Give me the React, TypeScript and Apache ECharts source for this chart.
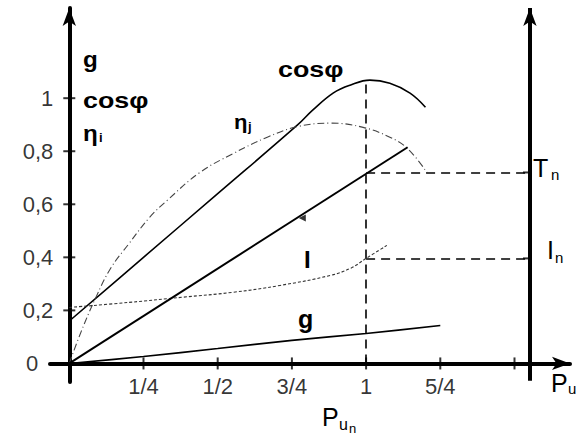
import React, { useEffect, useRef } from 'react';
import * as echarts from 'echarts';

// ---- data (P/Pn on x, per-unit on y) ----
const cosPhiX = [0, 0.25, 0.5, 0.77, 0.82, 0.89, 0.946, 1.013, 1.08, 1.148, 1.2];
const cosPhiY = [0.16, 0.4, 0.64, 0.9, 0.955, 1.02, 1.049, 1.068, 1.056, 1.019, 0.966];

const etaX = [0, 0.04, 0.09, 0.14, 0.2, 0.27, 0.33, 0.44, 0.55, 0.667, 0.77, 0.88, 0.99, 1.08, 1.14, 1.205];
const etaY = [0, 0.12, 0.25, 0.36, 0.45, 0.55, 0.615, 0.72, 0.79, 0.853, 0.893, 0.906, 0.89, 0.853, 0.81, 0.72];

const currentX = [0, 0.2, 0.385, 0.55, 0.71, 0.88, 0.95, 1.0, 1.07];
const currentY = [0.211, 0.23, 0.25, 0.268, 0.294, 0.332, 0.36, 0.396, 0.445];

const torqueX = [0, 1.14];
const torqueY = [0, 0.815];

const slipX = [0, 0.25, 0.5, 0.75, 1, 1.25];
const slipY = [0, 0.026, 0.056, 0.087, 0.113, 0.143];

const ratedP = 1;
const ratedTorque = 0.72;
const ratedCurrent = 0.396;
const cosPhiPeak = 1.066;
const rightAxisX = 1.552;
const torqueArrowMark = [0.785, 0.548];

const xTickValues = [0.25, 0.5, 0.75, 1, 1.25, 1.5];
const xLabelValues = [0.25, 0.5, 0.75, 1, 1.25];
const xLabelTexts = ['1/4', '1/2', '3/4', '1', '5/4'];
const yTickValues = [0.2, 0.4, 0.6, 0.8, 1];
const yLabelValues = [0.2, 0.4, 0.6, 0.8, 1];
const yLabelTexts = ['0,2', '0,4', '0,6', '0,8', '1'];
const originLabel = '0';

const zip = (xs: number[], ys: number[]) => xs.map((x, i) => [x, ys[i]]);
const pick = (vals: number[], texts: string[], v: number) => {
  const i = vals.findIndex((a) => Math.abs(a - v) < 1e-6);
  return i >= 0 ? texts[i] : '';
};

const FONT = 'Liberation Sans, Arial, sans-serif';

export default function App() {
  const ref = useRef<HTMLDivElement>(null);
  useEffect(() => {
    if (!ref.current) return;
    const chart = echarts.init(ref.current, undefined, { renderer: 'svg' });
    const txt = (text: string, x: number, y: number, size: number, bold = false, sx = 1) => ({
      type: 'text',
      x,
      y,
      scaleX: sx,
      style: {
        text,
        fontSize: size,
        fontWeight: bold ? 'bold' : 'normal',
        fontFamily: FONT,
        fill: '#000',
        textVerticalAlign: 'top',
      },
    });
    const labelStyle = { fontSize: 22, fontFamily: FONT, color: '#000' };
    chart.setOption({
      animation: false,
      backgroundColor: '#fff',
      grid: { left: 50, top: 8, width: 520, height: 374, containLabel: false },
      xAxis: {
        type: 'value',
        min: -0.065,
        max: 1.687,
        splitLine: { show: false },
        axisTick: { show: false },
        axisLabel: { show: false },
        axisLine: {
          show: true,
          onZero: true,
          symbol: ['none', 'arrow'],
          symbolSize: [10, 18],
          lineStyle: { color: '#000', width: 4 },
        },
      },
      yAxis: {
        type: 'value',
        min: -0.07,
        max: 1.34,
        splitLine: { show: false },
        axisTick: { show: false },
        axisLabel: { show: false },
        axisLine: {
          show: true,
          onZero: true,
          symbol: ['none', 'arrow'],
          symbolSize: [10, 18],
          lineStyle: { color: '#000', width: 4 },
        },
      },
      series: [
        {
          name: 'cosphi',
          type: 'line',
          data: zip(cosPhiX, cosPhiY),
          smooth: 0.4,
          showSymbol: false,
          lineStyle: { color: '#000', width: 1.6 },
        },
        {
          name: 'eta',
          type: 'line',
          data: zip(etaX, etaY),
          smooth: 0.4,
          showSymbol: false,
          lineStyle: { color: '#444', width: 1.1, type: [7, 3, 1, 3] },
        },
        {
          name: 'I',
          type: 'line',
          data: zip(currentX, currentY),
          smooth: 0.4,
          showSymbol: false,
          lineStyle: { color: '#333', width: 1.1, type: [3, 2] },
        },
        {
          name: 'T',
          type: 'line',
          data: zip(torqueX, torqueY),
          showSymbol: false,
          lineStyle: { color: '#000', width: 2 },
        },
        {
          name: 'g',
          type: 'line',
          data: zip(slipX, slipY),
          smooth: 0.3,
          showSymbol: false,
          lineStyle: { color: '#000', width: 1.6 },
        },
        {
          name: 'xticks',
          type: 'scatter',
          data: xTickValues.map((v) => [v, 0]),
          symbol: 'rect',
          symbolSize: [2, 12],
          itemStyle: { color: '#000' },
          silent: true,
        },
        {
          name: 'yticks',
          type: 'scatter',
          data: yTickValues.map((v) => [0, v]),
          symbol: 'rect',
          symbolSize: [12, 2],
          itemStyle: { color: '#000' },
          silent: true,
        },
        {
          name: 'xlabels',
          type: 'scatter',
          data: xLabelValues.map((v) => [v, 0]),
          symbolSize: 0,
          silent: true,
          label: {
            show: true,
            position: 'bottom',
            distance: 12,
            formatter: (p: any) => pick(xLabelValues, xLabelTexts, p.value[0]),
            ...labelStyle,
          },
        },
        {
          name: 'ylabels',
          type: 'scatter',
          data: yLabelValues.map((v) => [0, v]),
          symbolSize: 0,
          silent: true,
          label: {
            show: true,
            position: 'left',
            distance: 16,
            formatter: (p: any) => pick(yLabelValues, yLabelTexts, p.value[1]),
            ...labelStyle,
          },
        },
        {
          name: 'origin',
          type: 'scatter',
          data: [[0, 0]],
          symbolSize: 0,
          silent: true,
          label: { show: true, position: 'left', distance: 31, formatter: originLabel, ...labelStyle },
        },
        {
          name: 'rticks',
          type: 'scatter',
          data: [[rightAxisX - 0.01, ratedTorque], [rightAxisX - 0.01, ratedCurrent]],
          symbol: 'rect',
          symbolSize: [8, 2],
          itemStyle: { color: '#000' },
          silent: true,
        },
        {
          name: 'tmark',
          type: 'scatter',
          data: [torqueArrowMark],
          symbol: 'triangle',
          symbolRotate: 90,
          symbolSize: [7, 7],
          itemStyle: { color: '#000' },
          silent: true,
        },
        {
          name: 'guides',
          type: 'line',
          data: [],
          markLine: {
            silent: true,
            animation: false,
            label: { show: false },
            symbol: ['none', 'none'],
            lineStyle: { color: '#000', width: 1.6, type: [9, 6] },
            data: [
              [{ coord: [ratedP, 0] }, { coord: [ratedP, cosPhiPeak] }],
              [{ coord: [ratedP, ratedTorque] }, { coord: [rightAxisX, ratedTorque] }],
              [{ coord: [ratedP, ratedCurrent] }, { coord: [rightAxisX, ratedCurrent] }],
            ],
          },
        },
        {
          name: 'rightAxis',
          type: 'line',
          data: [],
          markLine: {
            silent: true,
            animation: false,
            label: { show: false },
            symbol: ['none', 'arrow'],
            symbolSize: [10, 18],
            lineStyle: { color: '#000', width: 4, type: 'solid' },
            data: [[{ coord: [rightAxisX, -0.065] }, { coord: [rightAxisX, 1.34] }]],
          },
        },
      ],
      graphic: [
        txt('g', 83, 48, 22, true, 1.1),
        txt('cosφ', 83, 89, 22, true, 1.22),
        txt('η', 83, 122, 22, true, 1.1),
        txt('i', 99, 131, 13, true),
        txt('cosφ', 278, 58, 22, true, 1.22),
        txt('η', 234, 112, 21, true, 1.05),
        txt('j', 248, 120, 13, true),
        txt('I', 304, 247, 24, true),
        txt('g', 298, 306, 25, true),
        txt('T', 533, 155, 25),
        txt('n', 551, 167, 15),
        txt('I', 547, 237, 25),
        txt('n', 555, 250, 15),
        txt('P', 551, 370, 25),
        txt('u', 568, 381, 15),
        txt('P', 322, 404, 25),
        txt('u', 339, 416, 16),
        txt('n', 349, 422, 13),
      ],
    });
    return () => chart.dispose();
  }, []);
  return (
    <div
      ref={ref}
      style={{ position: 'absolute', left: 0, top: 0, width: 582, height: 435, background: '#fff' }}
    />
  );
}
